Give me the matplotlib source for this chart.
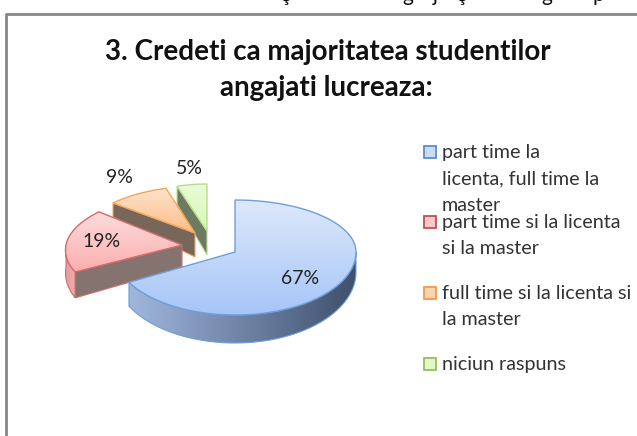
import numpy as np
from matplotlib import pyplot as plt
from matplotlib.colors import LinearSegmentedColormap
from matplotlib.patches import Polygon

title_lines = ["3. Credeti ca majoritatea studentilor", "angajati lucreaza:"]
shares = [67, 19, 9, 5]
share_labels = ["67%", "19%", "9%", "5%"]
legend_labels = [
    ["part time la", "licenta, full time la", "master"],
    ["part time si la licenta", "si la master"],
    ["full time si la licenta si", "la master"],
    ["niciun raspuns"],
]
# what shows of the page heading cropped off above the chart
cropped_chars = ["ş", "g", "j", "ş", "g", "p"]
cropped_x = [286, 408, 435, 462, 547, 598]

# one style per slice: exploded apex, radii, shear, depths, colours
slices = [
    dict(apex=(235, 252), rx=121, back=52, front=63, shear=0, d_rim=20, d_front=8, d_apex=0,
         top=("#DDE9FC", "#A6C5F7"), side=("#A0B7DE", "#3F4F6D"), cut=None, edge="#6F9FD8"),
    dict(apex=(182, 245), rx=116, back=52, front=56, shear=-0.19, d_rim=22, d_front=8, d_apex=22,
         top=("#FBDCDC", "#FDAEAE"), side=("#E59C9C", "#EFB0B0"), cut="#85736F", edge="#D26C6C"),
    dict(apex=(195, 233), rx=111, back=47, front=47, shear=-0.118, d_rim=14, d_front=0, d_apex=24,
         top=("#FDE3CB", "#FFBD88"), side=("#F5B680", "#F5B680"), cut="#77675B", edge="#F2A65A"),
    dict(apex=(207, 231), rx=97, back=47, front=47, shear=0, d_rim=18, d_front=0, d_apex=24,
         top=("#EAFBD8", "#D8F8B4"), side=("#D8F8B4", "#D8F8B4"), cut="#6D7A62", edge="#B9DC90"),
]
label_pos = [(300, 278), (102, 241), (119, 177), (189, 168)]
legend_y = [152, 222, 293, 364]
legend_colors = [("#C9DBF8", "#5B8CC8"), ("#FBC9C9", "#C0504D"), ("#FDD5B0", "#F79646"), ("#E3F7CC", "#9BBB59")]
legend_pitch = 26.5


def rim(s, angles):
    a = np.radians(angles)
    c = np.cos(a)
    ry = np.where(c > 0, s["back"], s["front"])
    dy = -ry * c
    return s["apex"][0] + s["rx"] * np.sin(a) + s["shear"] * dy, s["apex"][1] + dy


def depth(s, angles):
    return s["d_rim"] + s["d_front"] * np.maximum(0, -np.cos(np.radians(angles)))


def gradient_fill(ax, pts, colors, vertical=True):
    pts = np.array(pts)
    x0, x1 = pts[:, 0].min(), pts[:, 0].max()
    y0, y1 = pts[:, 1].min(), pts[:, 1].max()
    cmap = LinearSegmentedColormap.from_list("g", colors)
    ramp = np.linspace(0, 1, 256)
    ramp = ramp[:, None] if vertical else ramp[None, :]
    im = ax.imshow(ramp, cmap=cmap, extent=(x0, x1, y1, y0), origin="upper", aspect="auto", zorder=2)
    im.set_clip_path(Polygon(pts, closed=True, transform=ax.transData))


def draw_slice(ax, s, a0, a1):
    apex = s["apex"]
    # outer wall, only the part facing the viewer
    w0, w1 = max(a0, 90), min(a1, 270)
    if w1 > w0:
        ang = np.linspace(w0, w1, 80)
        xs, ys = rim(s, ang)
        wall = list(zip(xs, ys)) + list(zip(xs[::-1], (ys + depth(s, ang))[::-1]))
        gradient_fill(ax, wall, s["side"], vertical=False)
        ax.add_patch(Polygon(wall, closed=True, fill=False, ec=s["edge"], lw=0.8, zorder=2))
    # cut face at the start of the slice
    if s["cut"]:
        cx, cy = rim(s, np.array([a0]))
        face = [apex, (cx[0], cy[0]), (cx[0], cy[0] + depth(s, np.array([a0]))[0]), (apex[0], apex[1] + s["d_apex"])]
        ax.add_patch(Polygon(face, closed=True, fc=s["cut"], ec=s["edge"], lw=0.8, zorder=2))
    ang = np.linspace(a0, a1, 120)
    xs, ys = rim(s, ang)
    top = [apex] + list(zip(xs, ys))
    gradient_fill(ax, top, s["top"])
    ax.add_patch(Polygon(top, closed=True, fill=False, ec=s["edge"], lw=1.0, zorder=2))


plt.rcParams["font.family"] = ["Lato", "DejaVu Sans"]
fig = plt.figure(figsize=(6.37, 4.36), dpi=100)
ax = fig.add_axes([0, 0, 1, 1])
ax.axis("off")

# chart frame, runs off the right and bottom of the crop
ax.plot([6, 6, 640], [440, 14, 14], color="#868686", lw=2, zorder=1)

for ch, x in zip(cropped_chars, cropped_x):
    ax.text(x, 1, ch, ha="center", va="baseline", fontsize=15, color="#111111", clip_on=True)

ax.text(328, 52, title_lines[0], ha="center", va="center", fontsize=20, fontweight="bold", color="#111111")
ax.text(326, 88, title_lines[1], ha="center", va="center", fontsize=20, fontweight="bold", color="#111111")

edges = np.cumsum([0] + shares) * 3.6
for i in [3, 2, 1, 0]:
    draw_slice(ax, slices[i], edges[i], edges[i + 1])

for lab, (x, y) in zip(share_labels, label_pos):
    ax.text(x, y, lab, ha="center", va="center", fontsize=14, color="#222222", zorder=3)

for lines, y, (fc, ec) in zip(legend_labels, legend_y, legend_colors):
    ax.add_patch(Polygon([(424, y - 6), (436, y - 6), (436, y + 6), (424, y + 6)], closed=True, fc=fc, ec=ec, lw=1.3))
    for j, line in enumerate(lines):
        ax.text(442, y + j * legend_pitch, line, ha="left", va="center", fontsize=14.2, color="#333333")

ax.set_xlim(0, 637)
ax.set_ylim(436, 0)
fig.savefig("out.png", dpi=100)
